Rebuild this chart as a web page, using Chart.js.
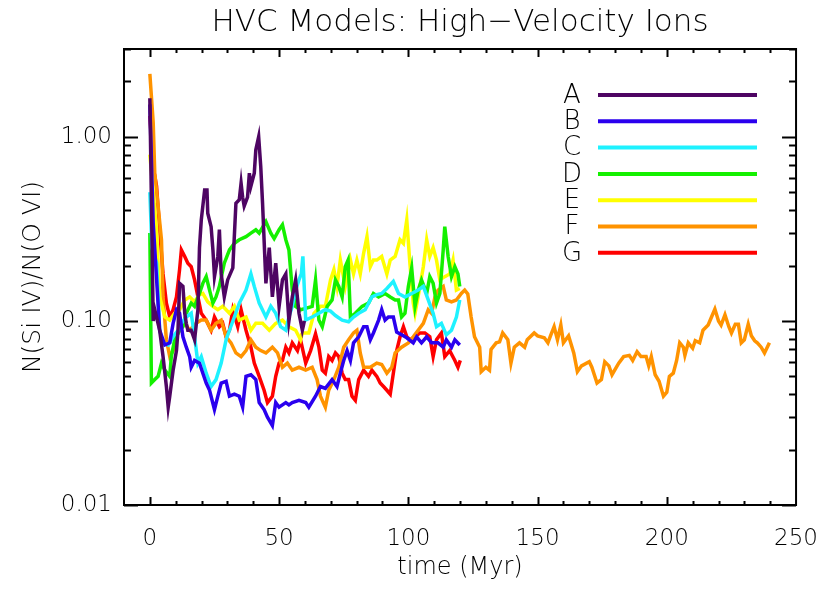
<!DOCTYPE html>
<html>
<head>
<meta charset="utf-8">
<title>HVC Models: High-Velocity Ions</title>
<script src="https://cdn.jsdelivr.net/npm/chart.js@4.4.1/dist/chart.umd.min.js"></script>
<style>
  body { margin: 0; background: #fff; }
  canvas { display: block; }
</style>
</head>
<body>
<canvas id="hvcChart" width="830" height="593"></canvas>
<script>
// time (Myr) and N(Si IV)/N(O VI) for each model
const tA = [0,1.3,1.9,3.8,5.1,6.4,7.1,7.7,9.0,10.3,10.9,11.5,12.8,13.5,14.1,14.7,16.0,17.3,18.6,19.2,19.9,21.2,22.1,22.4,23.7,24.4,25.0,26.3,26.9,27.6,28.8,30.1,32.1,33.3,34.6,35.3,35.9,36.5,37.8,38.5,39.1,40.4,41.0,42.1,42.9,43.6,44.9,46.2,47.4,48.7,50.0,51.3,52.6,53.8,55.1,56.4,57.7,59.0,59.8];
const vA = [1.62,0.10,0.115,0.089,0.064,0.044,0.034,0.039,0.054,0.069,0.089,0.16,0.154,0.11,0.097,0.089,0.089,0.079,0.115,0.25,0.354,0.515,0.515,0.385,0.325,0.243,0.174,0.224,0.313,0.18,0.135,0.167,0.194,0.436,0.455,0.56,0.47,0.42,0.47,0.635,0.54,0.635,0.85,1.0,0.69,0.436,0.16,0.25,0.135,0.206,0.12,0.167,0.18,0.10,0.135,0.167,0.11,0.089,0.10];

const tB = [0,1.3,3.8,5.8,7.7,9.0,10.3,11.5,12.8,14.1,15.4,16.0,17.3,19.2,20.5,21.8,23.1,25.0,26.3,27.6,29.5,30.8,32.7,34.6,35.9,37.2,39.1,41.0,42.3,44.2,45.5,47.4,48.7,50.0,52.6,53.8,55.1,57.7,60.3,61.5,64.1,66.0,67.9,70.5,72.4,73.7,75.0,76.3,77.6,78.8,80.8,82.7,84.0,85.3,86.5,88.5,89.7,91.0,92.3,94.2,95.5,97.4,99.4,101.9,103.2,105.1,107.1,109.0,111.5,113.5,114.7,116.7,118.0,119.9];
const vB = [1.5,0.34,0.089,0.074,0.076,0.097,0.115,0.11,0.082,0.072,0.064,0.056,0.061,0.059,0.052,0.046,0.042,0.033,0.039,0.046,0.047,0.039,0.04,0.039,0.034,0.05,0.051,0.048,0.036,0.033,0.03,0.027,0.036,0.034,0.036,0.035,0.036,0.037,0.036,0.034,0.039,0.044,0.043,0.048,0.044,0.052,0.061,0.069,0.061,0.076,0.082,0.093,0.093,0.079,0.086,0.101,0.115,0.101,0.105,0.105,0.087,0.084,0.081,0.076,0.082,0.076,0.082,0.076,0.076,0.072,0.079,0.072,0.079,0.074];

const tC = [0,0.8,2.6,3.8,5.1,7.1,9.0,10.9,12.2,14.1,16.0,17.3,18.6,19.9,21.8,23.7,25.6,27.6,29.5,30.8,32.7,34.6,37.2,39.1,40.4,42.3,44.9,46.8,48.7,50.6,52.6,53.8,55.1,56.4,57.7,58.6,59.2,60.3,62.8,65.4,67.9,69.9,71.8,74.4,76.9,78.8,80.8,83.3,85.9,87.8,89.7,91.7,94.2,96.2,98.7,101.3,103.8,105.8,107.7,109.6,110.9,112.8,114.7,116.7,118.6,119.9];
const vC = [0.5,0.25,0.206,0.089,0.076,0.074,0.082,0.089,0.097,0.105,0.11,0.082,0.059,0.064,0.052,0.044,0.048,0.059,0.079,0.089,0.105,0.125,0.147,0.18,0.154,0.125,0.105,0.12,0.11,0.093,0.089,0.105,0.12,0.147,0.167,0.18,0.224,0.101,0.105,0.11,0.115,0.113,0.107,0.101,0.099,0.105,0.11,0.115,0.135,0.139,0.141,0.15,0.164,0.141,0.135,0.141,0.147,0.154,0.13,0.11,0.093,0.097,0.084,0.089,0.105,0.13];

const tD = [0,0.6,1.9,3.2,4.5,5.8,7.7,8.3,9.6,11.5,12.8,14.1,16.0,17.3,19.2,20.5,21.8,23.1,24.4,25.6,26.9,28.8,30.8,32.7,34.6,37.2,39.1,41.0,42.3,44.9,46.8,48.1,50.0,51.3,52.6,53.8,55.1,56.4,58.3,60.3,62.8,64.1,65.4,66.7,68.6,70.5,71.8,73.1,74.4,75.6,76.7,77.6,79.5,82.1,84.6,86.5,88.5,91.0,93.0,94.9,96.2,97.4,98.7,100.0,101.3,102.6,103.8,105.1,107.1,108.3,109.6,110.9,112.2,113.5,114.1,115.4,116.7,118.0,119.2,119.9];
const vD = [0.3,0.046,0.048,0.05,0.059,0.054,0.05,0.064,0.079,0.089,0.093,0.11,0.125,0.12,0.141,0.16,0.174,0.147,0.125,0.135,0.154,0.206,0.243,0.264,0.276,0.287,0.3,0.313,0.3,0.346,0.3,0.28,0.313,0.333,0.276,0.243,0.147,0.12,0.115,0.117,0.12,0.167,0.101,0.093,0.12,0.13,0.167,0.154,0.135,0.197,0.214,0.105,0.11,0.12,0.125,0.141,0.135,0.141,0.135,0.13,0.13,0.105,0.11,0.154,0.194,0.12,0.147,0.167,0.141,0.174,0.16,0.125,0.141,0.243,0.325,0.224,0.174,0.197,0.18,0.154];

const tE = [0,1.3,2.6,3.8,5.8,7.7,9.6,11.5,13.5,15.4,17.3,19.2,20.5,22.4,24.4,26.3,28.2,30.8,32.7,34.6,37.2,39.1,41.0,43.6,46.2,48.7,51.3,53.8,56.4,58.3,59.0,61.5,63.5,66.0,67.9,69.9,71.2,72.4,73.7,75.6,77.6,78.8,80.1,81.4,82.7,84.0,85.3,86.5,87.8,89.7,91.7,93.0,94.9,96.8,98.1,99.4,100.6,101.9,102.6,104.5,105.8,107.1,108.3,109.6,110.9,112.2,114.1,116.0,117.3,118.6,119.9];
const vE = [0.8,0.5,0.313,0.135,0.105,0.101,0.11,0.115,0.13,0.135,0.127,0.139,0.141,0.127,0.12,0.115,0.12,0.11,0.12,0.101,0.105,0.089,0.097,0.097,0.089,0.097,0.101,0.093,0.089,0.079,0.086,0.086,0.11,0.12,0.12,0.167,0.19,0.154,0.214,0.154,0.214,0.18,0.214,0.18,0.233,0.287,0.197,0.214,0.214,0.224,0.18,0.214,0.224,0.276,0.264,0.354,0.206,0.125,0.11,0.154,0.197,0.276,0.224,0.25,0.214,0.167,0.174,0.18,0.214,0.147,0.15];

const tF = [0,1.3,1.9,3.2,4.5,5.1,6.4,7.7,9.0,10.3,11.5,13.5,15.4,17.9,19.9,21.8,23.7,25.6,27.6,29.5,31.4,33.3,35.3,37.2,39.1,41.0,42.9,44.9,47.4,49.4,51.3,53.2,55.1,57.7,60.3,62.8,64.7,66.0,67.9,69.2,71.2,73.1,75.0,76.9,78.8,80.1,81.4,82.7,85.3,87.8,89.7,91.7,93.6,94.9,97.4,100.0,101.9,103.8,105.8,107.7,109.0,110.3,111.5,113.5,114.7,116.7,118.6,120.5,121.8,123.0,124.3,125.6,127.6,128.2,130.0,131.4,132.0,134.0,135.3,136.5,138.5,139.7,141.0,143.0,145.0,146.0,148.7,150.0,152.6,154.0,155.0,156.4,157.7,159.0,160.0,162.0,164.0,165.4,167.0,170.0,171.0,173.0,174.7,176.0,177.6,178.8,181.4,183.3,185.5,186.8,188.5,190.0,192.0,193.0,194.0,195.5,197.0,198.7,200.0,201.0,202.5,203.8,205.0,206.4,207.0,208.3,210.0,211.0,212.7,214.0,216.0,217.3,218.6,220.0,221.0,222.5,224.0,225.0,226.5,227.7,228.8,230.0,231.5,232.7,234.0,235.0,236.5,237.8,239.7];
const vF = [2.2,1.19,0.635,0.42,0.276,0.135,0.079,0.064,0.069,0.082,0.089,0.097,0.089,0.097,0.101,0.101,0.089,0.097,0.101,0.082,0.076,0.067,0.064,0.069,0.079,0.072,0.069,0.067,0.072,0.067,0.056,0.059,0.054,0.056,0.054,0.056,0.048,0.039,0.034,0.042,0.048,0.056,0.072,0.079,0.086,0.089,0.067,0.056,0.056,0.059,0.058,0.052,0.056,0.067,0.072,0.076,0.082,0.089,0.097,0.115,0.11,0.135,0.147,0.154,0.13,0.127,0.13,0.141,0.147,0.14,0.105,0.082,0.072,0.053,0.056,0.054,0.07,0.076,0.077,0.086,0.079,0.059,0.072,0.076,0.072,0.079,0.086,0.083,0.081,0.076,0.083,0.093,0.079,0.095,0.076,0.083,0.067,0.053,0.057,0.06,0.056,0.046,0.048,0.06,0.057,0.051,0.059,0.064,0.065,0.061,0.068,0.064,0.064,0.057,0.064,0.051,0.047,0.039,0.041,0.05,0.052,0.061,0.076,0.072,0.065,0.076,0.071,0.078,0.076,0.089,0.095,0.105,0.116,0.1,0.095,0.108,0.093,0.086,0.096,0.096,0.076,0.079,0.096,0.083,0.078,0.076,0.072,0.067,0.076];

const tG = [0,1.3,2.6,3.8,5.1,6.4,7.7,9.0,10.3,11.5,12.2,13.5,14.7,16.0,17.3,18.6,19.9,21.8,23.7,25.0,26.9,28.2,29.5,30.8,32.1,34.0,35.3,37.2,39.1,40.4,42.3,44.2,45.5,47.4,48.7,50.0,51.3,52.6,53.8,55.1,57.1,58.3,60.3,62.2,64.1,65.4,66.7,67.9,69.2,70.5,71.8,73.1,74.4,75.6,76.9,78.2,79.5,80.8,82.7,84.6,85.9,87.8,89.1,90.4,91.7,93.0,94.2,95.5,96.8,98.1,99.4,100.6,102.6,104.5,106.4,108.3,109.6,110.9,112.8,114.1,116.0,118.0,119.2,120.1];
const vG = [1.3,0.69,0.54,0.313,0.18,0.125,0.105,0.115,0.135,0.19,0.243,0.224,0.206,0.197,0.167,0.135,0.11,0.101,0.089,0.105,0.093,0.097,0.082,0.089,0.115,0.093,0.115,0.089,0.072,0.059,0.05,0.042,0.036,0.039,0.05,0.059,0.061,0.072,0.067,0.076,0.069,0.079,0.059,0.069,0.085,0.072,0.054,0.052,0.064,0.061,0.067,0.064,0.052,0.048,0.048,0.039,0.037,0.048,0.054,0.05,0.054,0.05,0.046,0.044,0.042,0.04,0.052,0.069,0.082,0.093,0.082,0.079,0.082,0.086,0.086,0.082,0.064,0.079,0.086,0.064,0.069,0.061,0.056,0.061];

const models = ['A', 'B', 'C', 'D', 'E', 'F', 'G'];
const colors = ['#4e0563', '#2a00ee', '#1ef2ff', '#14f000', '#ffff00', '#ff9300', '#ff0000'];
const xTicks = [0, 50, 100, 150, 200, 250];
const yTicks = [0.01, 0.1, 1];

const times = [tA, tB, tC, tD, tE, tF, tG];
const values = [vA, vB, vC, vD, vE, vF, vG];

const FONT = "'DejaVu Sans', sans-serif";

function pairs(t, v) {
    const n = Math.min(t.length, v.length);
    const out = [];
    for (let i = 0; i < n; i++) out.push({ x: t[i], y: v[i] });
    return out;
}

// box round the plot with IDL style inward ticks on all four sides
const framePlugin = {
    id: 'frame',
    afterDatasetsDraw(chart) {
        const { ctx, chartArea: a, scales } = chart;
        const xs = scales.x, ys = scales.y;
        ctx.save();
        ctx.strokeStyle = '#000';
        ctx.lineWidth = 2;
        ctx.strokeRect(a.left, a.top, a.right - a.left, a.bottom - a.top);
        ctx.beginPath();
        for (let t = 0; t < 250; t += 10) {
            const px = Math.round(xs.getPixelForValue(t)) + 0.5;
            const len = (t % 50 === 0) ? 8 : 4;
            ctx.moveTo(px, a.bottom); ctx.lineTo(px, a.bottom - len);
            ctx.moveTo(px, a.top); ctx.lineTo(px, a.top + len);
        }
        for (let d = 0.01; d < 3; d *= 10) {
            for (let k = 1; k < 10; k++) {
                const v = d * k;
                if (v > 3.0001) break;
                const py = Math.round(ys.getPixelForValue(v)) + 0.5;
                const len = (k === 1) ? 14 : 7;
                ctx.moveTo(a.left, py); ctx.lineTo(a.left + len, py);
                ctx.moveTo(a.right, py); ctx.lineTo(a.right - len, py);
            }
        }
        ctx.stroke();
        ctx.restore();
    }
};

// legend inside the plot: letter then a coloured bar
const keyPlugin = {
    id: 'key',
    afterDraw(chart) {
        const { ctx } = chart;
        ctx.save();
        ctx.font = '200 26px ' + FONT;
        ctx.textAlign = 'center';
        ctx.textBaseline = 'middle';
        chart.data.datasets.forEach((ds, i) => {
            const y = 95 + i * 26.3;
            ctx.fillStyle = '#000';
            ctx.fillText(ds.label, 572, y + 1);
            ctx.strokeStyle = ds.borderColor;
            ctx.lineWidth = 4;
            ctx.beginPath();
            ctx.moveTo(598, y);
            ctx.lineTo(757, y);
            ctx.stroke();
        });
        ctx.restore();
    }
};

const ctx = document.getElementById('hvcChart').getContext('2d');
const hvcChart = new Chart(ctx, {
    type: 'line',
    data: {
        datasets: models.map((m, i) => ({
            label: m,
            data: pairs(times[i], values[i]),
            borderColor: colors[i],
            backgroundColor: colors[i],
            borderWidth: 3.5,
            pointRadius: 0,
            tension: 0,
            fill: false
        }))
    },
    options: {
        responsive: false,
        animation: false,
        devicePixelRatio: 1,
        layout: { padding: { top: 0, right: 31, bottom: 0, left: 0 } },
        plugins: {
            legend: { display: false },
            tooltip: { enabled: false },
            title: {
                display: true,
                fullSize: false,
                text: 'HVC Models: High\u2212Velocity Ions',
                color: '#000',
                font: { family: FONT, size: 31, weight: '200', lineHeight: 1.2 },
                padding: { top: 4, bottom: 7.8 }
            }
        },
        scales: {
            x: {
                type: 'linear',
                min: -10,
                max: 250,
                grid: { display: false },
                border: { display: false },
                afterBuildTicks: s => { s.ticks = xTicks.map(v => ({ value: v })); },
                afterFit: s => { s.height = 88; },
                ticks: {
                    color: '#000',
                    padding: 12,
                    maxRotation: 0,
                    autoSkip: false,
                    font: { family: FONT, size: 23, weight: '200' }
                },
                title: {
                    display: true,
                    text: 'time (Myr)',
                    color: '#000',
                    font: { family: FONT, size: 24, weight: '200', lineHeight: 1.2 },
                    padding: { top: 0, bottom: 10.6 }
                }
            },
            y: {
                type: 'logarithmic',
                min: 0.01,
                max: 3,
                grid: { display: false, drawTicks: false },
                border: { display: false },
                afterBuildTicks: s => { s.ticks = yTicks.map(v => ({ value: v })); },
                afterFit: s => { s.width = 124; },
                ticks: {
                    color: '#000',
                    padding: 12,
                    autoSkip: false,
                    font: { family: FONT, size: 23, weight: '200' },
                    callback: v => Number(v).toFixed(2)
                },
                title: {
                    display: true,
                    text: 'N(Si IV)/N(O VI)',
                    color: '#000',
                    font: { family: FONT, size: 25, weight: '200', lineHeight: 1.2 },
                    padding: { top: 18, bottom: 0 }
                }
            }
        }
    },
    plugins: [framePlugin, keyPlugin]
});
</script>
</body>
</html>
